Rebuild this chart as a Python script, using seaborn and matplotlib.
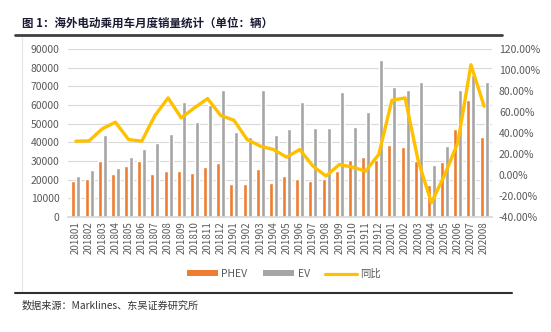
import matplotlib
matplotlib.use("Agg")
import matplotlib.pyplot as plt
import seaborn as sns
import pandas as pd
from matplotlib.lines import Line2D
from matplotlib.patches import Patch

months = ['201801', '201802', '201803', '201804', '201805', '201806', '201807', '201808',
          '201809', '201810', '201811', '201812', '201901', '201902', '201903', '201904',
          '201905', '201906', '201907', '201908', '201909', '201910', '201911', '201912',
          '202001', '202002', '202003', '202004', '202005', '202006', '202007', '202008']
phev = [19500, 20300, 29800, 23300, 27100, 29800, 23000, 24800, 24400, 23500, 26700, 28700,
        17500, 17500, 25700, 18400, 21700, 20300, 19200, 20500, 24900, 30800, 32400, 30700,
        38700, 37300, 29800, 16900, 29600, 47400, 62700, 42600]
ev = [22100, 25100, 43800, 26500, 32100, 36400, 39600, 44700, 61500, 50800, 59900, 68100,
      45400, 42800, 68100, 43700, 47400, 61800, 47900, 47900, 66800, 48300, 56500, 84000,
      69800, 67900, 72200, 28000, 37900, 68100, 76100, 72200]
yoy = [32.2, 32.5, 44.0, 50.3, 33.8, 32.2, 56.6, 73.4, 54.4, 64.0, 72.8, 56.6,
       52.2, 33.8, 27.5, 24.3, 17.0, 24.3, 8.5, -1.0, 10.0, 7.5, 3.7, 19.6,
       71.2, 73.4, 13.2, -26.4, 0.0, 30.6, 105.0, 65.5]
left_ticks = [0, 10000, 20000, 30000, 40000, 50000, 60000, 70000, 80000, 90000]
right_ticks = [-40, -20, 0, 20, 40, 60, 80, 100, 120]

sns.set_theme(style="white")
plt.rcParams['font.family'] = ['Noto Sans CJK SC', 'DejaVu Sans']

C_PHEV = '#ED7D31'
C_EV = '#A5A5A5'
C_LINE = '#FFC000'
C_TXT = '#595959'

df = pd.DataFrame({'month': months * 2,
                   'sales': phev + ev,
                   'type': ['PHEV'] * len(months) + ['EV'] * len(months)})
df_line = pd.DataFrame({'idx': list(range(len(months))), 'yoy': yoy})

fig = plt.figure(figsize=(5.51, 3.32), dpi=100)
ax = fig.add_axes([68 / 551, 1 - 217 / 332, (492 - 68) / 551, (217 - 49) / 332])

sns.barplot(data=df, x='month', y='sales', hue='type', order=months,
            hue_order=['PHEV', 'EV'], palette={'PHEV': C_PHEV, 'EV': C_EV},
            width=0.75, gap=0.2, ax=ax, legend=False, saturation=1)
ax.set_ylim(0, 90000)
ax.set_yticks(left_ticks)
ax.set_yticklabels([str(t) for t in left_ticks])
ax.set_xlim(-0.6, len(months) - 0.4)
ax.yaxis.grid(True, color='#D9D9D9', linewidth=0.8)
ax.set_axisbelow(True)
ax.set_xlabel('')
ax.set_ylabel('')
for s in ['top', 'right', 'left']:
    ax.spines[s].set_visible(False)
ax.spines['bottom'].set_color('#D9D9D9')
ax.tick_params(axis='x', labelrotation=90, labelsize=7, colors=C_TXT, length=0, pad=3)
ax.tick_params(axis='y', labelsize=7.5, colors=C_TXT, length=0, pad=6)

ax2 = ax.twinx()
sns.lineplot(data=df_line, x='idx', y='yoy', color=C_LINE, linewidth=2.4, ax=ax2)
ax2.set_ylim(-40, 120)
ax2.set_yticks(right_ticks)
ax2.set_yticklabels([f'{t:.2f}%' for t in right_ticks])
ax2.set_ylabel('')
ax2.set_xlabel('')
for s in ['top', 'right', 'left', 'bottom']:
    ax2.spines[s].set_visible(False)
ax2.tick_params(axis='y', labelsize=7.5, colors=C_TXT, length=0, pad=5)
ax2.set_xlim(-0.6, len(months) - 0.4)

handles = [Patch(facecolor=C_PHEV, edgecolor='none'),
           Patch(facecolor=C_EV, edgecolor='none'),
           Line2D([0], [0], color=C_LINE, linewidth=2.3)]
leg = fig.legend(handles, ['PHEV', 'EV', '同比'], loc='center', bbox_to_anchor=(0.515, 1 - 274 / 332),
                 ncol=3, frameon=False, fontsize=7.5, handlelength=3.0, handleheight=0.5,
                 columnspacing=1.5, handletextpad=0.3)
for t in leg.get_texts():
    t.set_color(C_TXT)

fig.text(22 / 551, 1 - 23 / 332, '图 1：海外电动乘用车月度销量统计（单位：辆）', fontsize=8.3,
         fontweight='bold', color='#1a1a33', va='center', ha='left')
fig.add_artist(Line2D([15 / 551, 502 / 551], [1 - 35 / 332, 1 - 35 / 332], color='#404040',
                      linewidth=2.0, transform=fig.transFigure))
fig.add_artist(Line2D([22 / 551, 22 / 551], [1 - 37 / 332, 1 - 291 / 332], color='#E6E6E6',
                      linewidth=0.8, transform=fig.transFigure))
fig.add_artist(Line2D([15 / 551, 512 / 551], [1 - 293 / 332, 1 - 293 / 332], color='#303030',
                      linewidth=1.5, transform=fig.transFigure))
fig.text(22 / 551, 1 - 306 / 332, '数据来源：Marklines、东吴证券研究所', fontsize=7.3,
         color='#333333', va='center', ha='left')

fig.savefig('out.png', dpi=100)
